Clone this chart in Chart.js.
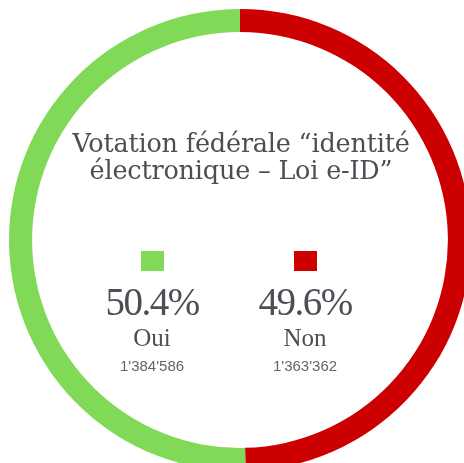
<!DOCTYPE html>
<html>
<head>
<meta charset="utf-8">
<script src="https://cdn.jsdelivr.net/npm/chart.js@4/dist/chart.umd.min.js"></script>
<style>
  html, body { margin: 0; padding: 0; background: #fff; }
  body { width: 464px; height: 463px; overflow: hidden; position: relative; }
  #ring { position: absolute; left: 9px; top: 9px; width: 462px; height: 462px; }
  .titre {
    position: absolute; left: 0; width: 482px; top: 130px; text-align: center;
    font-family: "DejaVu Serif", serif; font-size: 25.5px; line-height: 27px; color: #4d4d55;
    letter-spacing: -0.2px;
  }
  .col { position: absolute; width: 160px; text-align: center; color: #4d4d55; }
  .carre { width: 23px; height: 20px; margin: 0 auto; }
  .pct { font-family: "Liberation Serif", serif; font-size: 39px; line-height: 39px; margin-top: 11px; letter-spacing: -1.5px; }
  .lab { font-family: "Liberation Serif", serif; font-size: 25px; line-height: 25px; margin-top: 4px; }
  .nb { font-family: "Liberation Sans", sans-serif; font-size: 15px; line-height: 15px; margin-top: 8px; color: #666; }
</style>
</head>
<body>
<div id="ring"><canvas id="graphique"></canvas></div>
<div class="titre">Votation fédérale “identité<br>électronique – Loi e-ID”</div>
<div id="legende"></div>
<script>
var categories = ['Oui', 'Non'];
var voix = [1384586, 1363362];
var couleurs = ['#80d957', '#cc0000'];

var total = voix[0] + voix[1];

function formatSuisse(n) {
    return String(n).replace(/\B(?=(\d{3})+(?!\d))/g, "'");
}

// le Non part du haut dans le sens horaire, le Oui ferme le cercle à gauche
var ctx = document.getElementById('graphique').getContext('2d');
var graphique = new Chart(ctx, {
    type: 'doughnut',
    data: {
        labels: categories.slice().reverse(),
        datasets: [{
            data: voix.slice().reverse(),
            backgroundColor: couleurs.slice().reverse(),
            borderWidth: 0,
            hoverOffset: 0
        }]
    },
    options: {
        responsive: true,
        maintainAspectRatio: false,
        animation: false,
        cutout: '90%',
        layout: { padding: 0 },
        plugins: {
            legend: { display: false },
            tooltip: { enabled: false }
        }
    }
});

var centres = [152, 305];
var legende = document.getElementById('legende');
categories.forEach(function (cat, i) {
    var col = document.createElement('div');
    col.className = 'col';
    col.style.left = (centres[i] - 80) + 'px';
    col.style.top = '251px';
    col.innerHTML =
        '<div class="carre" style="background:' + couleurs[i] + '"></div>' +
        '<div class="pct">' + (voix[i] / total * 100).toFixed(1) + '%</div>' +
        '<div class="lab">' + cat + '</div>' +
        '<div class="nb">' + formatSuisse(voix[i]) + '</div>';
    legende.appendChild(col);
});
</script>
</body>
</html>
